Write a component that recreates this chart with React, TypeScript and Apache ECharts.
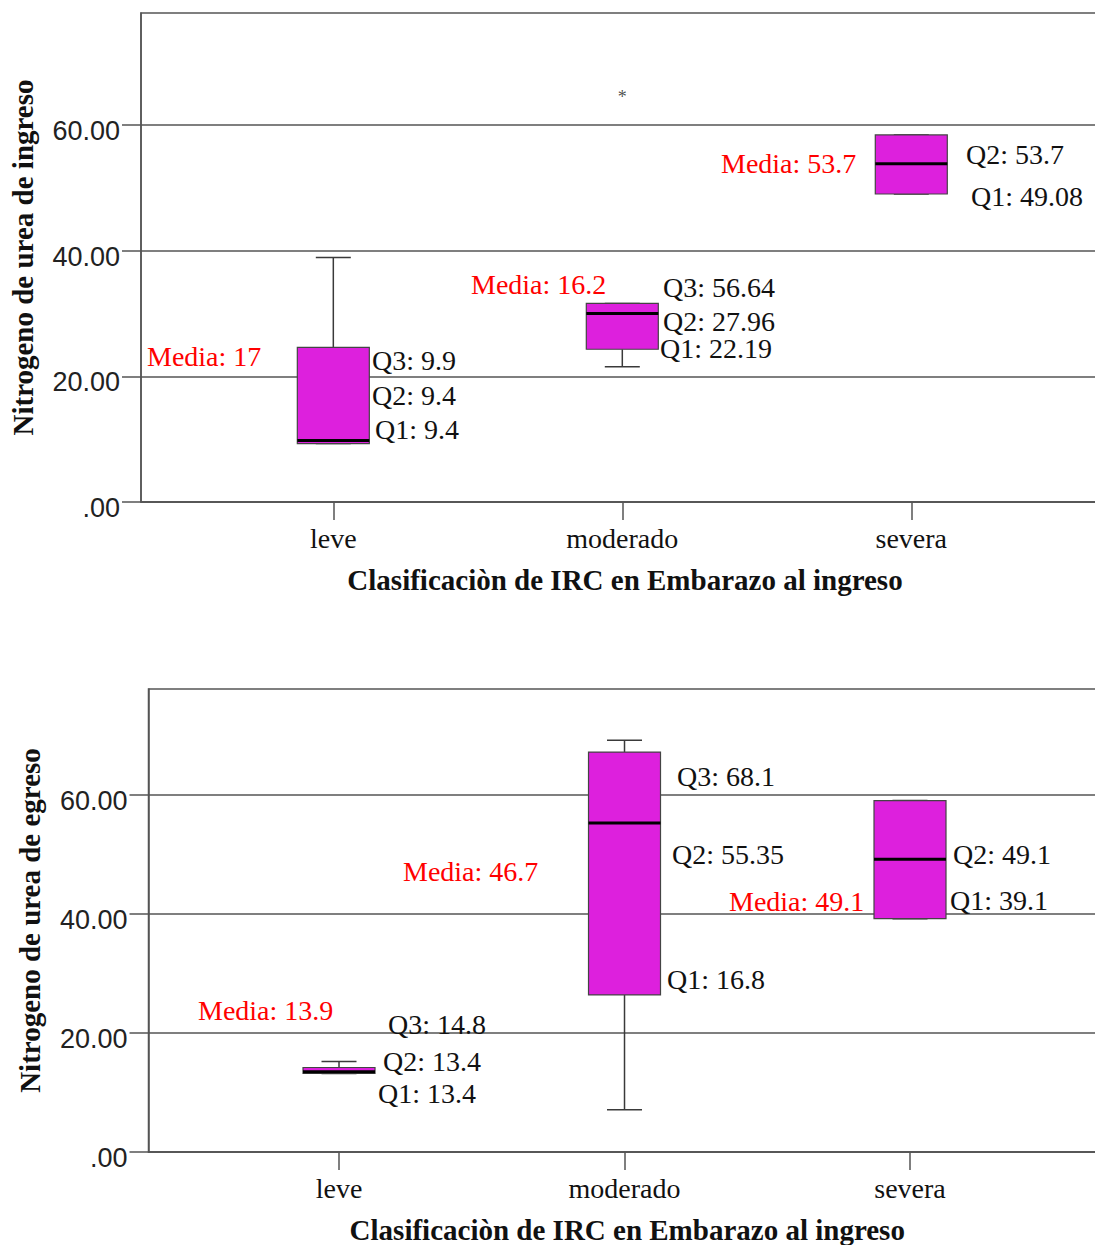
import React, { useEffect, useRef } from "react";
import * as echarts from "echarts";

// ---- data ----
const categories = ["leve", "moderado", "severa"];
// [min, Q1, median, Q3, max]
const ingresoBoxes = [
  [9.3, 9.3, 9.8, 24.6, 38.9],
  [21.5, 24.3, 30.0, 31.6, 31.6],
  [49.0, 49.0, 53.8, 58.4, 58.4],
];
const ingresoOutliers = [[1, 64.9]];
const egresoBoxes = [
  [13.2, 13.2, 13.5, 14.2, 15.2],
  [7.1, 26.4, 55.3, 67.2, 69.2],
  [39.2, 39.2, 49.2, 59.05, 59.05],
];
const yTicks = [0, 20, 40, 60];
const ingresoNotes = [
  { text: "Media: 17", red: true },
  { text: "Q3: 9.9", red: false },
  { text: "Q2: 9.4", red: false },
  { text: "Q1: 9.4", red: false },
  { text: "Media: 16.2", red: true },
  { text: "Q3: 56.64", red: false },
  { text: "Q2: 27.96", red: false },
  { text: "Q1: 22.19", red: false },
  { text: "Media: 53.7", red: true },
  { text: "Q2: 53.7", red: false },
  { text: "Q1: 49.08", red: false },
];
const egresoNotes = [
  { text: "Media: 13.9", red: true },
  { text: "Q3: 14.8", red: false },
  { text: "Q2: 13.4", red: false },
  { text: "Q1: 13.4", red: false },
  { text: "Media: 46.7", red: true },
  { text: "Q3: 68.1", red: false },
  { text: "Q2: 55.35", red: false },
  { text: "Q1: 16.8", red: false },
  { text: "Media: 49.1", red: true },
  { text: "Q2: 49.1", red: false },
  { text: "Q1: 39.1", red: false },
];
// annotation placement (pixels)
const ingresoNotePos = [
  [147, 356], [372, 360], [372, 395], [375, 429],
  [471, 284], [663, 287], [663, 321], [660, 348],
  [721, 163], [966, 154], [971, 196],
];
const egresoNotePos = [
  [198, 1010], [388, 1024], [383, 1061], [378, 1093],
  [403, 871], [677, 776], [672, 854], [667, 979],
  [729, 901], [953, 854], [950, 900],
];

const SERIF = '"Liberation Serif", "Times New Roman", serif';
const SANS = '"Liberation Sans", Arial, sans-serif';
const BOX_FILL = "#DD20DD";
const LINE = "#555";

function renderBox(params: any, api: any) {
  const x = api.value(0);
  const pMin = api.coord([x, api.value(1)]);
  const pQ1 = api.coord([x, api.value(2)]);
  const pMed = api.coord([x, api.value(3)]);
  const pQ3 = api.coord([x, api.value(4)]);
  const pMax = api.coord([x, api.value(5)]);
  const cx = pMed[0];
  const hw = 36;
  const cw = 17.5;
  const wStyle = { stroke: "#3a3a3a", lineWidth: 1.5 };
  return {
    type: "group",
    children: [
      { type: "line", shape: { x1: cx, y1: pMax[1], x2: cx, y2: pQ3[1] }, style: wStyle },
      { type: "line", shape: { x1: cx, y1: pQ1[1], x2: cx, y2: pMin[1] }, style: wStyle },
      { type: "line", shape: { x1: cx - cw, y1: pMax[1], x2: cx + cw, y2: pMax[1] }, style: wStyle },
      { type: "line", shape: { x1: cx - cw, y1: pMin[1], x2: cx + cw, y2: pMin[1] }, style: wStyle },
      {
        type: "rect",
        shape: { x: cx - hw, y: pQ3[1], width: hw * 2, height: pQ1[1] - pQ3[1] },
        style: { fill: BOX_FILL, stroke: "#444", lineWidth: 1.2 },
      },
      {
        type: "line",
        shape: { x1: cx - hw, y1: pMed[1], x2: cx + hw, y2: pMed[1] },
        style: { stroke: "#000", lineWidth: 3 },
      },
    ],
  };
}

function makeXAxis(gridIndex: number, min: number, max: number, namePad: number) {
  return {
    type: "value",
    gridIndex,
    min,
    max,
    name: "Clasificaciòn de IRC en Embarazo al ingreso",
    nameLocation: "middle",
    nameGap: 63,
    nameTextStyle: {
      fontFamily: SERIF,
      fontSize: 29,
      fontWeight: "bold",
      color: "#111",
      padding: [0, 0, 0, namePad],
    },
    axisLine: { show: true, onZero: false, lineStyle: { color: LINE, width: 1.5 } },
    axisTick: {
      show: true,
      length: 18,
      customValues: [0, 1, 2],
      lineStyle: { color: LINE, width: 1.5 },
    },
    axisLabel: {
      show: true,
      customValues: [0, 1, 2],
      margin: 22,
      fontFamily: SERIF,
      fontSize: 28,
      color: "#111",
      formatter: (v: number) => categories[Math.round(v)] ?? "",
    },
    splitLine: { show: false },
  };
}

function makeYAxis(gridIndex: number, name: string) {
  return {
    type: "value",
    gridIndex,
    min: 0,
    max: 77.8,
    interval: 20,
    name,
    nameLocation: "middle",
    nameGap: 104,
    nameTextStyle: { fontFamily: SERIF, fontSize: 29, fontWeight: "bold", color: "#111" },
    axisLine: { show: true, onZero: false, lineStyle: { color: LINE, width: 1.5 } },
    axisTick: {
      show: true,
      length: 19,
      customValues: yTicks,
      lineStyle: { color: LINE, width: 1.5 },
    },
    axisLabel: {
      show: true,
      customValues: yTicks,
      margin: 21,
      formatter: (v: number) => `{t|${v === 0 ? ".00" : v.toFixed(2)}}`,
      rich: {
        t: {
          fontFamily: SANS,
          fontSize: 27,
          color: "#222",
          padding: [12, 0, 0, 0],
        },
      },
    },
    splitLine: { show: true, lineStyle: { color: LINE, width: 1.5 } },
  };
}

function noteGraphics(notes: { text: string; red: boolean }[], pos: number[][]) {
  return notes.map((n, i) => ({
    type: "text",
    x: pos[i][0],
    y: pos[i][1],
    style: {
      text: n.text,
      fill: n.red ? "#FF0000" : "#111",
      fontFamily: SERIF,
      fontSize: 28,
      verticalAlign: "middle",
      align: "left",
    },
    z: 10,
  }));
}

export default function App() {
  const ref = useRef<HTMLDivElement>(null);
  useEffect(() => {
    if (!ref.current) return;
    const chart = echarts.init(ref.current, undefined, { renderer: "svg" });
    const ingresoData = ingresoBoxes.map((b, i) => [i, ...b]);
    const egresoData = egresoBoxes.map((b, i) => [i, ...b]);
    const gridCommon = {
      show: true,
      borderColor: LINE,
      borderWidth: 1.5,
      backgroundColor: "rgba(0,0,0,0)",
      right: 5,
    };
    chart.setOption({
      animation: false,
      backgroundColor: "#fff",
      grid: [
        { ...gridCommon, left: 140, top: 13, height: 489 },
        { ...gridCommon, left: 148.5, top: 689, height: 467 },
      ],
      xAxis: [makeXAxis(0, -0.6655, 2.653, 9), makeXAxis(1, -0.6673, 2.6655, 6)],
      yAxis: [
        makeYAxis(0, "Nitrogeno de urea de ingreso"),
        makeYAxis(1, "Nitrogeno de urea de egreso"),
      ],
      series: [
        {
          type: "custom",
          xAxisIndex: 0,
          yAxisIndex: 0,
          renderItem: renderBox,
          encode: { x: 0, y: [1, 2, 3, 4, 5] },
          data: ingresoData,
          z: 5,
        },
        {
          type: "custom",
          xAxisIndex: 1,
          yAxisIndex: 1,
          renderItem: renderBox,
          encode: { x: 0, y: [1, 2, 3, 4, 5] },
          data: egresoData,
          z: 5,
        },
        {
          type: "scatter",
          xAxisIndex: 0,
          yAxisIndex: 0,
          data: ingresoOutliers,
          symbolSize: 1,
          itemStyle: { color: "rgba(0,0,0,0)" },
          label: {
            show: true,
            formatter: "*",
            position: "inside",
            offset: [0, 3],
            fontFamily: SERIF,
            fontSize: 18,
            color: "#222",
          },
          z: 6,
        },
      ],
      graphic: [...noteGraphics(ingresoNotes, ingresoNotePos), ...noteGraphics(egresoNotes, egresoNotePos)],
    });
    return () => chart.dispose();
  }, []);
  return (
    <div
      style={{
        position: "fixed",
        left: 0,
        top: 0,
        width: 1095,
        height: 1245,
        overflow: "hidden",
        background: "#fff",
      }}
    >
      <div ref={ref} style={{ width: 1105, height: 1245 }} />
    </div>
  );
}
